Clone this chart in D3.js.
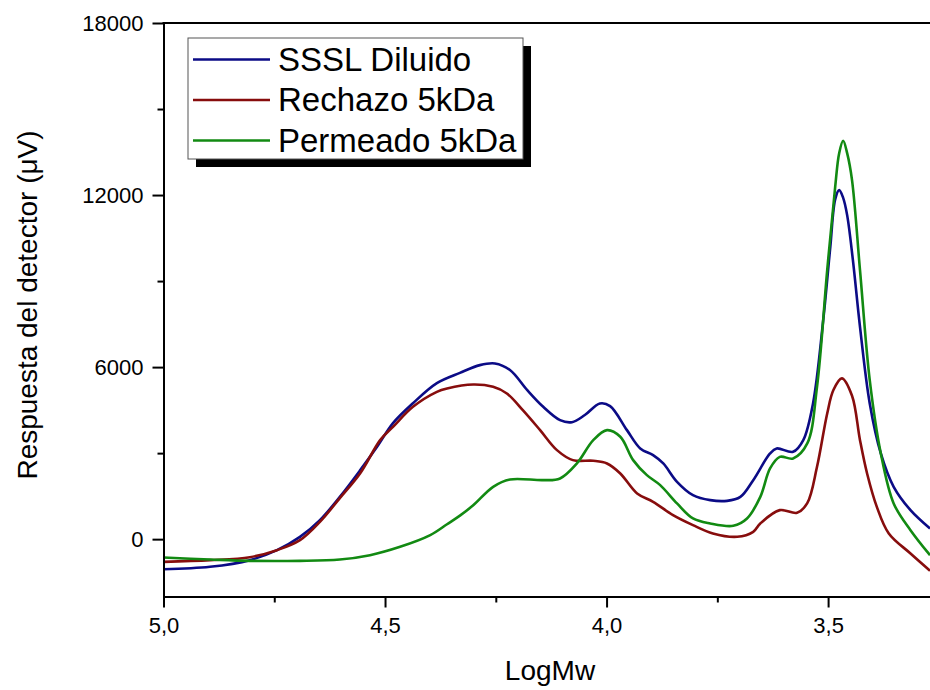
<!DOCTYPE html>
<html>
<head>
<meta charset="utf-8">
<script src="https://cdn.jsdelivr.net/npm/d3@7"></script>
<style>
  html, body { margin: 0; padding: 0; background: #fff; }
  svg { display: block; font-family: "Liberation Sans", Arial, sans-serif; }
</style>
</head>
<body>
<svg id="chart" width="930" height="690"></svg>
<script>
// ---- Data ----
const seriesNames = ["SSSL Diluido", "Rechazo 5kDa", "Permeado 5kDa"];
const seriesColors = ["#0b0b86", "#870d0d", "#128a12"];

const logMwSSSL = [5.000, 4.895, 4.805, 4.744, 4.692, 4.647, 4.602, 4.556, 4.518, 4.482, 4.437, 4.383, 4.331, 4.286, 4.252, 4.218, 4.179, 4.143, 4.105, 4.078, 4.049, 4.015, 3.992, 3.954, 3.924, 3.895, 3.872, 3.841, 3.805, 3.766, 3.728, 3.698, 3.669, 3.631, 3.616, 3.579, 3.556, 3.534, 3.511, 3.495, 3.484, 3.475, 3.466, 3.457, 3.444, 3.428, 3.406, 3.381, 3.352, 3.314, 3.270];
const respSSSL = [-1050, -965, -733, -384, 80, 663, 1475, 2407, 3220, 4046, 4740, 5441, 5800, 6069, 6128, 5900, 5197, 4615, 4150, 4080, 4330, 4733, 4640, 3802, 3164, 2930, 2640, 2000, 1535, 1360, 1336, 1475, 2058, 2989, 3162, 3046, 3453, 4733, 7639, 10196, 11850, 12173, 11900, 11300, 9731, 7405, 4733, 2989, 1826, 1012, 373];

const logMwRechazo = [5.000, 4.895, 4.805, 4.744, 4.692, 4.647, 4.602, 4.556, 4.511, 4.482, 4.437, 4.383, 4.360, 4.301, 4.256, 4.225, 4.189, 4.150, 4.112, 4.076, 4.030, 3.999, 3.969, 3.931, 3.895, 3.850, 3.805, 3.760, 3.705, 3.669, 3.653, 3.609, 3.570, 3.547, 3.525, 3.502, 3.488, 3.469, 3.446, 3.428, 3.412, 3.390, 3.363, 3.314, 3.270];
const respRechazo = [-791, -733, -628, -384, -35, 603, 1430, 2300, 3453, 3917, 4615, 5138, 5255, 5394, 5313, 5081, 4500, 3802, 3104, 2756, 2733, 2640, 2291, 1593, 1303, 837, 488, 198, 82, 256, 547, 1012, 919, 1255, 2522, 4384, 5200, 5606, 5000, 3453, 2291, 1127, 198, -500, -1100];

const logMwPermeado = [5.000, 4.895, 4.805, 4.692, 4.602, 4.534, 4.466, 4.398, 4.360, 4.331, 4.301, 4.256, 4.218, 4.143, 4.105, 4.067, 4.030, 3.999, 3.969, 3.940, 3.909, 3.879, 3.841, 3.805, 3.766, 3.714, 3.683, 3.653, 3.631, 3.609, 3.579, 3.547, 3.525, 3.502, 3.484, 3.475, 3.466, 3.457, 3.446, 3.428, 3.406, 3.381, 3.352, 3.314, 3.270];
const respPermeado = [-640, -709, -756, -756, -709, -558, -268, 140, 520, 820, 1180, 1826, 2082, 2058, 2117, 2640, 3453, 3802, 3569, 2756, 2232, 1884, 1245, 721, 547, 465, 721, 1475, 2466, 2870, 2815, 3338, 5313, 9383, 12289, 13460, 13893, 13460, 12522, 9383, 5546, 2989, 1245, 314, -558];

const xMajorTicks = [5.0, 4.5, 4.0, 3.5];
const xMinorTicks = [4.75, 4.25, 3.75];
const yMajorTicks = [0, 6000, 12000, 18000];
const yMinorTicks = [3000, 9000, 15000];

const xLabel = "LogMw";
const yLabel = "Respuesta del detector (\u03BCV)";

// ---- Layout ----
const svg = d3.select("#chart");
const mLeft = 163.5, mRight = 930, mTop = 23, mBottom = 596.5;

const x = d3.scaleLinear().domain([5.0, 3.270]).range([mLeft, mRight]);
const y = d3.scaleLinear().domain([-2000, 18000]).range([mBottom, mTop]);

// clip
svg.append("defs").append("clipPath").attr("id", "plotClip")
  .append("rect").attr("x", mLeft).attr("y", mTop).attr("width", mRight - mLeft).attr("height", mBottom - mTop);

// series
const series = [
  { xs: logMwSSSL, ys: respSSSL },
  { xs: logMwRechazo, ys: respRechazo },
  { xs: logMwPermeado, ys: respPermeado }
];
const line = d3.line().x(d => x(d[0])).y(d => y(d[1])).curve(d3.curveCatmullRom.alpha(0.5));
const plot = svg.append("g").attr("clip-path", "url(#plotClip)");
series.forEach((s, i) => {
  const pts = s.xs.map((v, k) => [v, s.ys[k]]);
  plot.append("path").datum(pts)
    .attr("d", line)
    .attr("fill", "none")
    .attr("stroke", seriesColors[i])
    .attr("stroke-width", 2.6)
    .attr("stroke-linejoin", "round");
});

// axes
const fmtX = d => d.toFixed(1).replace(".", ",");
function styleAxis(g) {
  g.select(".domain").attr("stroke", "#000").attr("stroke-width", 2);
  g.selectAll(".tick line").attr("stroke", "#000").attr("stroke-width", 2);
  g.selectAll(".tick text").attr("fill", "#000").attr("font-size", 22)
    .attr("font-family", "'Liberation Sans', Arial, sans-serif");
}

const gx = svg.append("g").attr("transform", `translate(0,${mBottom})`)
  .call(d3.axisBottom(x).tickValues(xMajorTicks).tickSize(11).tickSizeOuter(0).tickPadding(10).tickFormat(fmtX));
styleAxis(gx);
const gxm = svg.append("g").attr("transform", `translate(0,${mBottom})`)
  .call(d3.axisBottom(x).tickValues(xMinorTicks).tickSize(6).tickSizeOuter(0).tickFormat(""));
styleAxis(gxm);

const gy = svg.append("g").attr("transform", `translate(${mLeft},0)`)
  .call(d3.axisLeft(y).tickValues(yMajorTicks).tickSize(11).tickSizeOuter(0).tickPadding(9).tickFormat(d3.format("d")));
styleAxis(gy);
const gym = svg.append("g").attr("transform", `translate(${mLeft},0)`)
  .call(d3.axisLeft(y).tickValues(yMinorTicks).tickSize(6).tickSizeOuter(0).tickFormat(""));
styleAxis(gym);

// top frame line
svg.append("line").attr("x1", mLeft - 1).attr("x2", mRight).attr("y1", mTop).attr("y2", mTop)
  .attr("stroke", "#000").attr("stroke-width", 2);

// axis titles
svg.append("text").attr("x", 550).attr("y", 680).attr("text-anchor", "middle")
  .attr("font-size", 28).attr("fill", "#000").text(xLabel);
svg.append("text").attr("transform", "translate(37,305) rotate(-90)").attr("text-anchor", "middle")
  .attr("font-size", 28).attr("fill", "#000").text(yLabel);

// legend
const lg = svg.append("g");
const lx = 188, ly = 38, lw = 335, lh = 121;
lg.append("rect").attr("x", lx + 8).attr("y", ly + 8).attr("width", lw).attr("height", lh).attr("fill", "#000");
lg.append("rect").attr("x", lx).attr("y", ly).attr("width", lw).attr("height", lh)
  .attr("fill", "#fff").attr("stroke", "#555").attr("stroke-width", 1);
seriesNames.forEach((name, i) => {
  const cy = 59.5 + i * 40.5;
  lg.append("line").attr("x1", 193).attr("x2", 270).attr("y1", cy).attr("y2", cy)
    .attr("stroke", seriesColors[i]).attr("stroke-width", 2.6);
  lg.append("text").attr("x", 278).attr("y", cy + 11).attr("font-size", 33).attr("fill", "#000").text(name);
});
</script>
</body>
</html>
